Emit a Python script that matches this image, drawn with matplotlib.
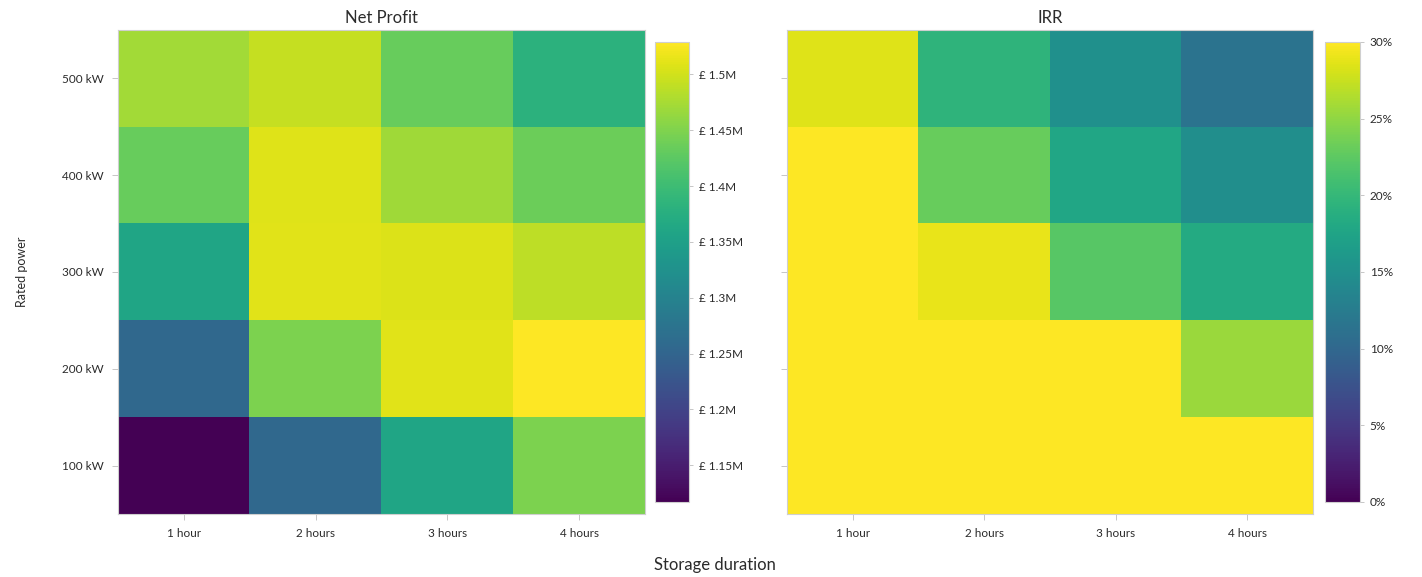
import matplotlib
matplotlib.use("Agg")
import matplotlib.pyplot as plt
import numpy as np
from matplotlib.ticker import FuncFormatter

plt.rcParams['font.family'] = ['Lato', 'DejaVu Sans']

durations = ["1 hour", "2 hours", "3 hours", "4 hours"]
powers = ["500 kW", "400 kW", "300 kW", "200 kW", "100 kW"]

# Net profit in £M, rows top-to-bottom (500 kW .. 100 kW)
net_profit = [
    [1.472, 1.492, 1.434, 1.381],
    [1.434, 1.509, 1.471, 1.437],
    [1.360, 1.510, 1.508, 1.488],
    [1.257, 1.447, 1.510, 1.529],
    [1.117, 1.257, 1.360, 1.447],
]

# IRR in %, same layout; colour scale tops out at 30 %
irr = [
    [28.5, 19.5, 15.0, 11.4],
    [33.0, 23.0, 17.7, 14.8],
    [38.0, 29.0, 22.2, 18.3],
    [45.0, 34.0, 31.0, 25.5],
    [70.0, 48.0, 38.0, 31.0],
]

profit_ticks = [1.15, 1.2, 1.25, 1.3, 1.35, 1.4, 1.45, 1.5]
irr_ticks = [0, 5, 10, 15, 20, 25, 30]

text_col = "#2b2b2b"
edge_col = "#cfcfcf"

fig = plt.figure(figsize=(14.22, 5.77), dpi=100)
W, H = 1422, 577


def fig_rect(x0, y0, x1, y1):
    return [x0 / W, 1 - y1 / H, (x1 - x0) / W, (y1 - y0) / H]


ax1 = fig.add_axes(fig_rect(118, 30, 645, 514))
cax1 = fig.add_axes(fig_rect(655, 42, 689, 502))
ax2 = fig.add_axes(fig_rect(787, 30, 1313, 514))
cax2 = fig.add_axes(fig_rect(1325, 42, 1360, 502))

np_arr = np.array(net_profit)
irr_arr = np.array(irr)

im1 = ax1.imshow(np_arr, cmap="viridis", aspect="auto",
                 vmin=np_arr.min(), vmax=np_arr.max(), interpolation="nearest")
im2 = ax2.imshow(irr_arr, cmap="viridis", aspect="auto",
                 vmin=0, vmax=30, interpolation="nearest")

for ax, title in ((ax1, "Net Profit"), (ax2, "IRR")):
    ax.set_xticks(range(len(durations)))
    ax.set_xticklabels(durations, fontsize=8.5, color=text_col)
    ax.set_yticks(range(len(powers)))
    ax.set_title(title, fontsize=12, color=text_col, pad=5)
    ax.tick_params(length=4, width=0.6, color="#bdbdbd", pad=6)
    for s in ax.spines.values():
        s.set_color(edge_col)
        s.set_linewidth(0.8)

ax1.set_yticklabels(powers, fontsize=8.5, color=text_col)
ax2.set_yticklabels([])

cb1 = fig.colorbar(im1, cax=cax1, ticks=profit_ticks)
cb1.ax.yaxis.set_major_formatter(FuncFormatter(lambda v, p: f"£ {v:g}M"))
cb2 = fig.colorbar(im2, cax=cax2, ticks=irr_ticks)
cb2.ax.yaxis.set_major_formatter(FuncFormatter(lambda v, p: f"{v:g}%"))

for cb in (cb1, cb2):
    cb.ax.tick_params(labelsize=8.5, labelcolor=text_col, length=3,
                      width=0.6, color="#bdbdbd", pad=4)
    cb.outline.set_edgecolor(edge_col)
    cb.outline.set_linewidth(0.8)

fig.text(715 / W, 1 - 565 / H, "Storage duration", ha="center", va="center",
         fontsize=12, color=text_col)
fig.text(22 / W, 1 - 272 / H, "Rated power", ha="center", va="center",
         rotation=90, fontsize=9, color=text_col)

fig.savefig("out.png", dpi=100, facecolor="white")
